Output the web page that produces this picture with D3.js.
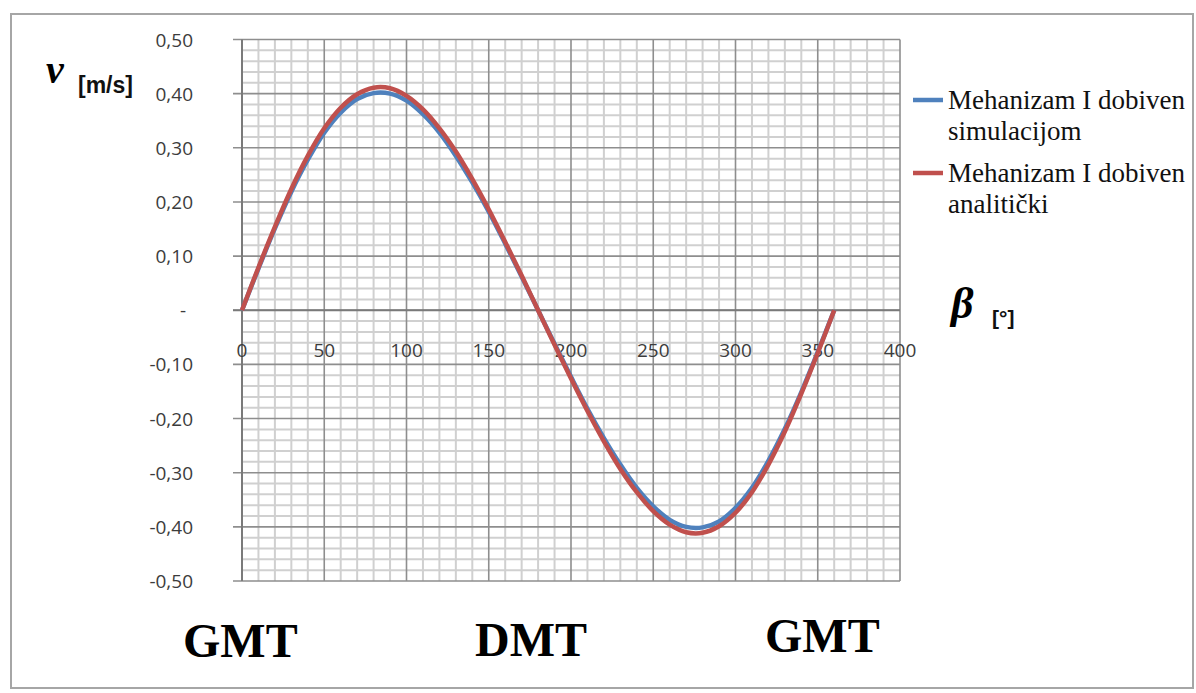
<!DOCTYPE html>
<html lang="hr">
<head>
  <meta charset="utf-8"/>
  <title>Brzina v(β)</title>
  <script src="https://cdn.jsdelivr.net/npm/d3@7/dist/d3.min.js"></script>
  <style>
    html, body { margin:0; padding:0; background:#fff; overflow:hidden; }
    svg { display:block; }
    .tick-lbl { font-family:"Open Sans", sans-serif; font-size:19px; fill:#3c3c3c; }
    .legend   { font-family:"Liberation Serif", "Times New Roman", serif; font-size:27px; fill:#111; }
    .big      { font-family:"Liberation Serif", "Times New Roman", serif; font-weight:bold; font-size:48px; fill:#000; }
  </style>
</head>
<body>
<svg id="chart" width="1196" height="693"></svg>
<script>
  // kut beta [°]
  const beta = [0,10,20,30,40,50,60,70,80,90,100,110,120,130,140,150,160,170,180,
                190,200,210,220,230,240,250,260,270,280,290,300,310,320,330,340,350,360];
  // mehanizam I - simulacija (plava)
  const vSim = [0,0.077,0.151,0.219,0.278,0.328,0.365,0.390,0.401,0.400,0.387,0.362,0.328,0.285,0.236,0.182,0.123,0.062,0,
                -0.062,-0.123,-0.182,-0.236,-0.285,-0.328,-0.362,-0.387,-0.400,-0.401,-0.390,-0.365,-0.328,-0.278,-0.219,-0.151,-0.077,0];
  // mehanizam I - analiticki (crvena)
  const vAna = [0,0.079,0.154,0.224,0.285,0.336,0.374,0.399,0.411,0.410,0.396,0.371,0.336,0.293,0.242,0.186,0.126,0.064,0,
                -0.064,-0.126,-0.186,-0.242,-0.293,-0.336,-0.371,-0.396,-0.410,-0.411,-0.399,-0.374,-0.336,-0.285,-0.224,-0.154,-0.079,0];

  const xTicks = [0,50,100,150,200,250,300,350,400];
  const yTicks = [0.5,0.4,0.3,0.2,0.1,0,-0.1,-0.2,-0.3,-0.4,-0.5];
  const yTickLabels = ["0,50","0,40","0,30","0,20","0,10","-","-0,10","-0,20","-0,30","-0,40","-0,50"];
  const legendItems = [
    {lines:["Mehanizam I dobiven","simulacijom"], color:"#4f81bd"},
    {lines:["Mehanizam I dobiven","analitički"],  color:"#c0504d"}
  ];
  const bottomLabels = ["GMT","DMT","GMT"];

  const svg = d3.select("#chart");

  // okvir
  svg.append("rect")
    .attr("x",11).attr("y",14).attr("width",1182).attr("height",674)
    .attr("fill","#fff").attr("stroke","#a6a6a6").attr("stroke-width",2);

  const x = d3.scaleLinear().domain([0,400]).range([242,900]);
  const y = d3.scaleLinear().domain([-0.5,0.5]).range([581,39.5]);

  const g = svg.append("g");

  // sporedne linije mreze
  const minorX = d3.range(0,401,10).filter(d => d % 50 !== 0);
  const minorY = d3.range(-50,51,2).filter(d => d % 10 !== 0).map(d => d/100);
  g.selectAll(".mx").data(minorX).join("line")
    .attr("x1",d=>x(d)).attr("x2",d=>x(d)).attr("y1",y(0.5)).attr("y2",y(-0.5))
    .attr("stroke","#d0d0d0").attr("stroke-width",2);
  g.selectAll(".my").data(minorY).join("line")
    .attr("x1",x(0)).attr("x2",x(400)).attr("y1",d=>y(d)).attr("y2",d=>y(d))
    .attr("stroke","#d0d0d0").attr("stroke-width",2);

  // glavne linije mreze
  g.selectAll(".Mx").data(xTicks).join("line")
    .attr("x1",d=>x(d)).attr("x2",d=>x(d)).attr("y1",y(0.5)).attr("y2",y(-0.5))
    .attr("stroke","#8e8e8e").attr("stroke-width",1.6);
  g.selectAll(".My").data(yTicks).join("line")
    .attr("x1",x(0)-9).attr("x2",x(400)).attr("y1",d=>y(d)).attr("y2",d=>y(d))
    .attr("stroke","#8e8e8e").attr("stroke-width",1.6);

  // osi
  g.append("line").attr("x1",x(0)).attr("x2",x(0)).attr("y1",y(0.5)).attr("y2",y(-0.5))
    .attr("stroke","#7a7a7a").attr("stroke-width",2);
  g.append("line").attr("x1",x(0)-9).attr("x2",x(400)).attr("y1",y(0)).attr("y2",y(0))
    .attr("stroke","#7a7a7a").attr("stroke-width",2);

  // oznake na osima
  svg.selectAll(".yl").data(yTicks).join("text")
    .attr("class","tick-lbl")
    .attr("x",(d,i)=> yTickLabels[i]==="-" ? 186 : 193)
    .attr("y",d=>y(d)+7)
    .attr("text-anchor","end")
    .text((d,i)=>yTickLabels[i]);
  svg.selectAll(".xl").data(xTicks).join("text")
    .attr("class","tick-lbl")
    .attr("x",d=>x(d)).attr("y",357)
    .attr("text-anchor","middle")
    .text(d=>d);

  // krivulje
  const line = d3.line().x((d,i)=>x(beta[i])).y(d=>y(d)).curve(d3.curveCatmullRom);
  svg.append("path").datum(vSim).attr("d",line)
    .attr("fill","none").attr("stroke","#4f81bd").attr("stroke-width",4.5);
  svg.append("path").datum(vAna).attr("d",line)
    .attr("fill","none").attr("stroke","#c0504d").attr("stroke-width",4.5);

  // naslovi osi
  const serifBI = t => t.attr("font-family","'Liberation Serif', 'Times New Roman', serif")
    .attr("font-style","italic").attr("font-weight","bold").attr("fill","#000");
  svg.append("text").attr("x",46).attr("y",83).attr("font-size",40).call(serifBI).text("v");
  svg.append("text").attr("x",78).attr("y",93)
    .attr("font-family","'Liberation Sans', Arial, sans-serif").attr("font-weight","bold")
    .attr("font-size",23).attr("fill","#111").text("[m/s]");
  svg.append("text").attr("x",951).attr("y",318).attr("font-size",44).call(serifBI).text("β");
  svg.append("text").attr("x",992).attr("y",325)
    .attr("font-family","'Liberation Sans', Arial, sans-serif").attr("font-weight","bold")
    .attr("font-size",21).attr("fill","#111").text("[°]");

  // legenda
  const leg = svg.selectAll(".leg").data(legendItems).join("g")
    .attr("transform",(d,i)=>`translate(0,${i*73})`);
  leg.append("line").attr("x1",913).attr("x2",943).attr("y1",100).attr("y2",100)
    .attr("stroke",d=>d.color).attr("stroke-width",4.5);
  leg.each(function(d){
    d3.select(this).selectAll("text").data(d.lines).join("text")
      .attr("class","legend").attr("x",948).attr("y",(t,j)=>109+j*31).text(t=>t);
  });

  // GMT / DMT
  const bx = [183,475,765], by = [657,656,652];
  svg.selectAll(".bl").data(bottomLabels).join("text")
    .attr("class","big").attr("x",(d,i)=>bx[i]).attr("y",(d,i)=>by[i]).text(d=>d);
</script>
</body>
</html>
